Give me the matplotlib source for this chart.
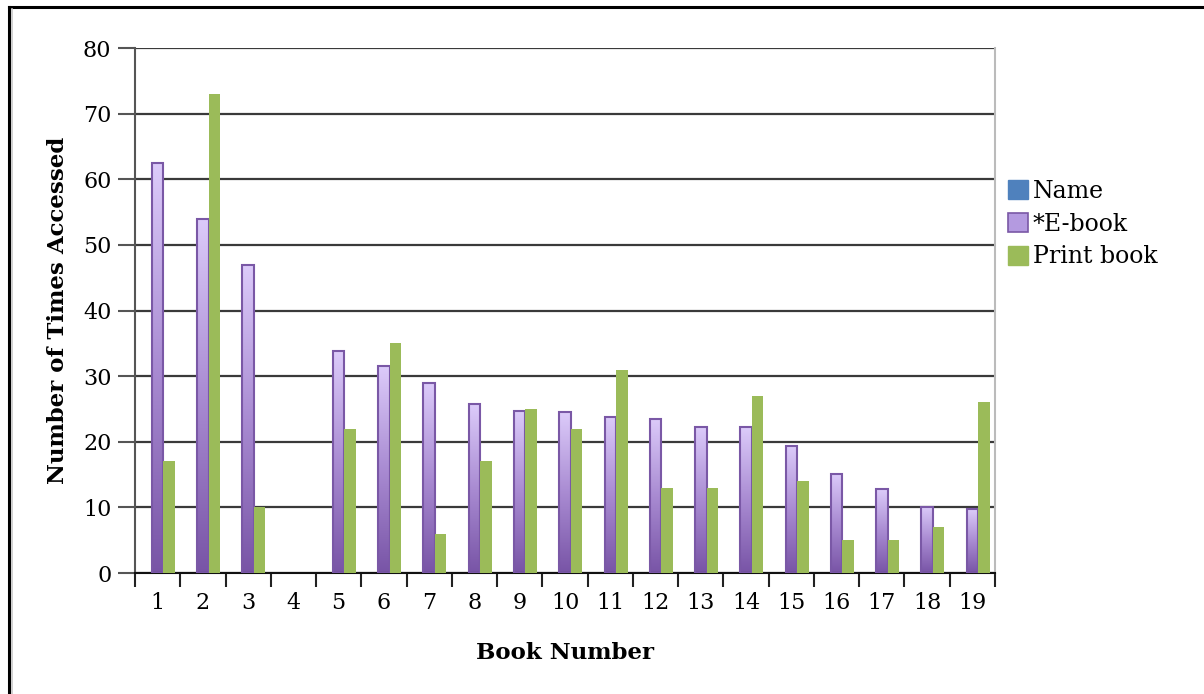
import matplotlib
matplotlib.use("Agg")
import matplotlib.pyplot as plt
import numpy as np
from matplotlib.colors import LinearSegmentedColormap
from matplotlib.patches import Patch
from matplotlib.lines import Line2D

books = [str(i) for i in range(1, 20)]
name_vals = [0] * 19
ebook = [62.5, 54, 47, 0, 33.8, 31.5, 29, 25.7, 24.7, 24.5, 23.8, 23.5, 22.3, 22.2, 19.4, 15.1, 12.8, 10.1, 9.7]
printbook = [17, 73, 10, 0, 22, 35, 6, 17, 25, 22, 31, 13, 13, 27, 14, 5, 5, 7, 26]
series_labels = ["Name", "*E-book", "Print book"]
y_ticks = [0, 10, 20, 30, 40, 50, 60, 70, 80]

FONT = "DejaVu Serif"
plt.rcParams["font.family"] = FONT

W, H = 1204, 694
fig = plt.figure(figsize=(W / 100, H / 100), dpi=100)
ax = fig.add_axes([135 / W, 1 - 573 / H, (995 - 135) / W, (573 - 48) / H])

x = np.arange(1, 20)
bw = 0.254
ax.bar(x - bw, name_vals, bw, color="#4f81bd", linewidth=0, zorder=2)
eb = ax.bar(x, ebook, bw, facecolor="none", edgecolor="#7a58a6", linewidth=1.5, zorder=3)
pb = ax.bar(x + bw, printbook, bw, color="#9bbb59", linewidth=0, zorder=3)

cmap = LinearSegmentedColormap.from_list("purp", ["#7854a6", "#a98bd2", "#dccbfa"])
grad = np.linspace(0, 1, 256).reshape(-1, 1)
for rect in eb:
    h = rect.get_height()
    if h <= 0:
        rect.set_linewidth(0)
        continue
    x0 = rect.get_x()
    im = ax.imshow(grad, extent=[x0, x0 + rect.get_width(), 0, h], origin="lower",
                   aspect="auto", cmap=cmap, zorder=2.5, interpolation="bilinear")
    im.set_clip_path(rect)

ax.set_xlim(0.5, 19.5)
ax.set_ylim(0, 80)
ax.set_aspect("auto")

ax.set_yticks(y_ticks)
ax.set_yticklabels([str(v) for v in y_ticks])
ax.yaxis.grid(True, color="#3a3a3a", linewidth=1.6)
ax.set_axisbelow(True)
ax.tick_params(axis="y", length=12, width=1.5, color="#555555", pad=5, labelsize=16, direction="out")

ax.set_xticks(x)
ax.set_xticklabels(books)
ax.tick_params(axis="x", which="major", length=0, pad=14, labelsize=16)
ax.set_xticks(np.arange(0.5, 20.5, 1), minor=True)
ax.tick_params(axis="x", which="minor", length=10, width=1.5, color="#222222", direction="out")

ax.spines["top"].set_visible(False)
ax.spines["right"].set_color("#bbbbbb")
ax.spines["right"].set_linewidth(1.5)
ax.spines["left"].set_color("#555555")
ax.spines["left"].set_linewidth(1.5)
ax.spines["bottom"].set_color("#111111")
ax.spines["bottom"].set_linewidth(1.5)

fig.text(58 / W, 1 - 310 / H, "Number of Times Accessed", rotation=90, ha="center", va="center",
         fontsize=16.5, fontweight="bold")
fig.text(565 / W, 1 - 653 / H, "Book Number", ha="center", va="center", fontsize=16.5, fontweight="bold")

handles = [Patch(facecolor="#4f81bd", edgecolor="#4f81bd"),
           Patch(facecolor="#b49ae0", edgecolor="#7a58a6", linewidth=1.2),
           Patch(facecolor="#9bbb59", edgecolor="#9bbb59")]
leg = fig.legend(handles, series_labels, loc="center left", bbox_to_anchor=(1008 / W, 1 - 224 / H),
                 frameon=False, fontsize=17, handlelength=0.85, handleheight=0.85,
                 handletextpad=0.2, labelspacing=0.42, borderaxespad=0, borderpad=0)

# outer frame (left and top edges visible)
fig.add_artist(Line2D([8.5 / W, 8.5 / W], [0, 1 - 6.5 / H], transform=fig.transFigure, color="black", lw=2.2))
fig.add_artist(Line2D([8.5 / W, 1], [1 - 6.5 / H, 1 - 6.5 / H], transform=fig.transFigure, color="black", lw=2.2))
fig.add_artist(Line2D([11.5 / W, 11.5 / W], [0, 1 - 9 / H], transform=fig.transFigure, color="#c8c8c8", lw=1.2))

fig.savefig("out.png", dpi=100)
